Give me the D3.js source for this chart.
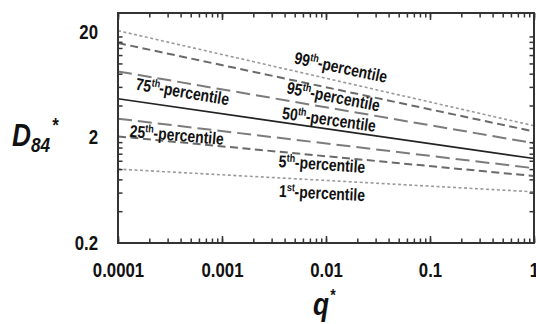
<!DOCTYPE html>
<html>
<head>
<meta charset="utf-8">
<script src="https://cdn.jsdelivr.net/npm/d3@7"></script>
<style>
  body { margin: 0; background: #fff; }
  svg text {
    font-family: "Liberation Sans Narrow", "Arial Narrow", "Liberation Sans", Arial, sans-serif;
    font-weight: bold;
    fill: #111;
  }
</style>
</head>
<body>
<svg id="chart" width="536" height="324"></svg>
<script>
// values (D84* at q* = 0.0001 and q* = 1)
var qValues = [0.0001, 1];
var p99 = [20.4, 2.57];
var p95 = [15.6, 2.27];
var p75 = [8.4, 1.76];
var p50 = [4.63, 1.26];
var p25 = [3.0, 1.02];
var p5 = [2.04, 0.86];
var p1 = [1.0, 0.61];

var xTickValues = [0.0001, 0.001, 0.01, 0.1, 1];
var xTickLabels = ["0.0001", "0.001", "0.01", "0.1", "1"];
var yTickValues = [0.2, 2, 20];
var yTickLabels = ["0.2", "2", "20"];
var yMinorTicks = [0.4, 0.6, 0.8, 1, 1.2, 1.4, 1.6, 1.8, 4, 6, 8, 10, 12, 14, 16, 18];

var series = [
  { rank: "99", sup: "th", values: p99, kind: "dot" },
  { rank: "95", sup: "th", values: p95, kind: "med" },
  { rank: "75", sup: "th", values: p75, kind: "long" },
  { rank: "50", sup: "th", values: p50, kind: "solid" },
  { rank: "25", sup: "th", values: p25, kind: "long" },
  { rank: "5", sup: "th", values: p5, kind: "med" },
  { rank: "1", sup: "st", values: p1, kind: "dot" }
];

var styles = {
  dot:   { stroke: "#9a9a9a", width: 1.6, dash: "3,2.5" },
  med:   { stroke: "#6a6a6a", width: 2,   dash: "8,4.5" },
  long:  { stroke: "#7c7c7c", width: 2,   dash: "14,6" },
  solid: { stroke: "#222",    width: 1.7, dash: null }
};

// label anchors (in data units) and rotation, per rank
var labelPlace = {
  "99": { q: 0.0139, d: 9.2, angle: 12 },
  "95": { q: 0.0118, d: 4.87, angle: 11 },
  "75": { q: 0.000417, d: 5.43, angle: 9.5 },
  "50": { q: 0.0107, d: 2.96, angle: 8 },
  "25": { q: 0.000367, d: 2.11, angle: 5 },
  "5":  { q: 0.00915, d: 1.12, angle: 4 },
  "1":  { q: 0.00915, d: 0.596, angle: 3 }
};

// the figure uses a narrow typeface; squeeze the regular one to match
var squeeze = "scale(0.82,1)";

var svg = d3.select("#chart"),
    margin = { top: 13, right: 2, bottom: 81, left: 118 },
    width = +svg.attr("width") - margin.left - margin.right,
    height = +svg.attr("height") - margin.top - margin.bottom;

var g = svg.append("g").attr("transform", "translate(" + margin.left + "," + margin.top + ")");

var x = d3.scaleLog().domain([0.0001, 1]).range([0, width]);
var y = d3.scaleLog().domain([0.2, 30]).range([height, 0]);

// lines
var line = d3.line()
    .x(function(d) { return x(d[0]); })
    .y(function(d) { return y(d[1]); });

g.append("g").attr("class", "lines")
  .selectAll("path")
  .data(series)
  .enter().append("path")
    .attr("d", function(s) { return line(qValues.map(function(q, i) { return [q, s.values[i]]; })); })
    .attr("fill", "none")
    .attr("stroke", function(s) { return styles[s.kind].stroke; })
    .attr("stroke-width", function(s) { return styles[s.kind].width; })
    .attr("stroke-dasharray", function(s) { return styles[s.kind].dash; });

// percentile labels
var labels = g.append("g").attr("class", "labels")
  .selectAll("text")
  .data(series)
  .enter().append("text")
    .attr("text-anchor", "middle")
    .attr("font-size", 17)
    .attr("transform", function(s) {
      var p = labelPlace[s.rank];
      return "translate(" + x(p.q) + "," + y(p.d) + ") rotate(" + p.angle + ") " + squeeze;
    })
    .attr("y", 6);

labels.append("tspan").text(function(s) { return s.rank; });
labels.append("tspan").attr("font-size", 11).attr("dy", -6).text(function(s) { return s.sup; });
labels.append("tspan").attr("dy", 6).text("-percentile");

// inward ticks on all four sides
var minorX = x.ticks();
function tickAxis(axis, pos, vals, size) {
  var a = g.append("g").attr("transform", pos)
    .call(axis.tickValues(vals).tickSize(size).tickFormat(""));
  a.select(".domain").remove();
  a.selectAll("line").attr("stroke", "#333").attr("stroke-width", 1.5);
}
tickAxis(d3.axisBottom(x), "translate(0," + height + ")", minorX, -4.5);
tickAxis(d3.axisTop(x), "translate(0,0)", minorX, -4.5);
tickAxis(d3.axisBottom(x), "translate(0," + height + ")", xTickValues, -7);
tickAxis(d3.axisTop(x), "translate(0,0)", xTickValues, -7);
tickAxis(d3.axisLeft(y), "translate(0,0)", yMinorTicks, -4.5);
tickAxis(d3.axisRight(y), "translate(" + width + ",0)", yMinorTicks, -4.5);

// frame
g.append("rect")
  .attr("width", width).attr("height", height)
  .attr("fill", "none").attr("stroke", "#333").attr("stroke-width", 2);

// tick labels
var xLab = g.append("g").attr("transform", "translate(0," + height + ")")
  .call(d3.axisBottom(x).tickValues(xTickValues).tickSize(0).tickPadding(20)
    .tickFormat(function(d, i) { return xTickLabels[i]; }));
xLab.select(".domain").remove();
xLab.selectAll("text").attr("font-size", 20).attr("font-family", null).attr("transform", "scale(0.84,1)");

var yLab = g.append("g")
  .call(d3.axisLeft(y).tickValues(yTickValues).tickSize(0).tickPadding(20 / 0.84)
    .tickFormat(function(d, i) { return yTickLabels[i]; }));
yLab.select(".domain").remove();
yLab.selectAll("text").attr("font-size", 20).attr("font-family", null).attr("transform", "scale(0.84,1)");

// axis titles
var yTitle = svg.append("g").attr("transform", "translate(12,146)")
  .append("text")
    .attr("transform", squeeze)
    .attr("font-size", 32).attr("font-style", "italic");
yTitle.append("tspan").text("D");
yTitle.append("tspan").attr("font-size", 21).attr("dy", 6).text("84");
yTitle.append("tspan").attr("font-size", 20).attr("dx", 2).attr("dy", -20).text("*");

var xTitle = svg.append("g").attr("transform", "translate(313,315)")
  .append("text")
    .attr("transform", squeeze)
    .attr("font-size", 32).attr("font-style", "italic");
xTitle.append("tspan").text("q");
xTitle.append("tspan").attr("font-size", 17).attr("dx", 1).attr("dy", -14).text("*");
</script>
</body>
</html>
